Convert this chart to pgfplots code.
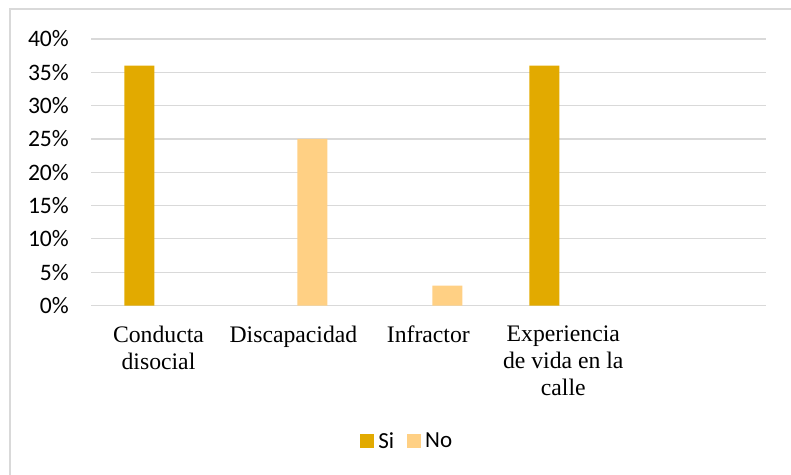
\documentclass[border=0pt]{standalone}
\usepackage{pgfplots}
\pgfplotsset{compat=1.18}
\usepackage{fontspec}
\setmainfont{Carlito}
\newfontfamily\tnr{Liberation Serif}
\definecolor{si}{RGB}{226,170,0}
\definecolor{no}{RGB}{255,208,132}
\definecolor{gridgray}{RGB}{217,217,217}
\definecolor{bordergray}{RGB}{217,217,217}
\begin{document}
\begin{tikzpicture}
\begin{axis}[
  scale only axis, width=674.7pt, height=266.5pt,
  ybar=8pt, bar width=30pt,
  xmin=-0.5, xmax=4.5, ymin=0, ymax=40,
  xtick={0,1,2,3,4},
  xticklabels={{Conducta\\disocial},{Discapacidad},{Infractor},{Experiencia\\de vida en la\\calle},{}},
  ytick={0,5,10,15,20,25,30,35,40},
  yticklabels={0\%,5\%,10\%,15\%,20\%,25\%,30\%,35\%,40\%},
  ymajorgrids, grid style={gridgray, line width=1.2pt},
  axis line style={draw=none}, major tick length=0pt,
  xticklabel style={font=\tnr\fontsize{23.7}{27}\selectfont, align=center, anchor=north, inner sep=0pt, yshift=-20pt},
  yticklabel style={font=\fontsize{23.6}{26}\selectfont, anchor=east, inner sep=0pt, xshift=-22pt},
  legend columns=2,
  legend style={at={(0.468,-0.508)}, anchor=center, draw=none, fill=none,
    font=\fontsize{23}{26}\selectfont,
    nodes={inner xsep=1pt},
    /tikz/every even column/.append style={column sep=12pt}},
  legend image code/.code={\fill[#1] (0pt,-7pt) rectangle (14pt,7pt); \path (17pt,0pt);},
  clip=false,
]
\addplot[fill=si, draw=none] coordinates {(0,36) (3,36)};
\addplot[fill=no, draw=none] coordinates {(1,25) (2,3)};
\legend{Si,No}
\end{axis}
\draw[bordergray, line width=1.5pt] (-81pt,-200pt) -- (-81pt,296.5pt) -- (720pt,296.5pt);
\pgfresetboundingbox
\useasboundingbox (-91pt,-168.5pt) rectangle (700pt,305.5pt);
\end{tikzpicture}
\end{document}
